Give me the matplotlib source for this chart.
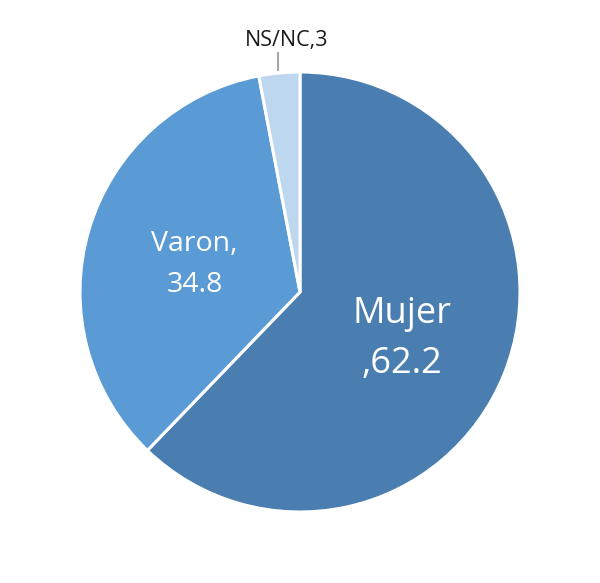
import numpy as np
import matplotlib
matplotlib.use("Agg")
import matplotlib.pyplot as plt

plt.rcParams['font.family'] = ['Open Sans', 'DejaVu Sans']

labels = ['Mujer', 'Varon', 'NS/NC']
values = [62.2, 34.8, 3.0]
colors = ['#4A7EB0', '#5B9BD5', '#BDD7EE']
texts = ['Mujer\n,62.2', 'Varon,\n34.8', 'NS/NC,3']

fig = plt.figure(figsize=(6, 5.83), dpi=100)
ax = fig.add_axes([80 / 600, 71 / 583, 440 / 600, 440 / 583])

wedges, _ = ax.pie(values, colors=colors, startangle=90, counterclock=False,
                   radius=1.0, wedgeprops=dict(edgecolor='white', linewidth=2.2))
ax.set_aspect('equal')
ax.set_xlim(-1, 1)
ax.set_ylim(-1, 1)
ax.axis('off')

total = sum(values)
cum = 0
for i, v in enumerate(values):
    mid = 90 - (cum + v / 2) / total * 360
    cum += v
    a = np.deg2rad(mid)
    if i == 0:
        ax.text(0.5 * np.cos(a), 0.5 * np.sin(a) - 0.027, texts[i], color='white',
                fontsize=26, ha='center', va='center', linespacing=1.5)
    elif i == 1:
        ax.text(0.5 * np.cos(a), 0.5 * np.sin(a) - 0.018, texts[i], color='white',
                fontsize=20.5, ha='center', va='center', linespacing=1.6)
    else:
        x0 = np.cos(a)
        ax.plot([x0 - 0.005, x0 - 0.005], [1.01, 1.085], color='#A6A6A6', lw=1.5,
                clip_on=False)
        ax.text(x0 + 0.035, 1.143, texts[i], color='#1a1a1a', fontsize=15.5,
                ha='center', va='center')

fig.savefig('out.png', dpi=100)
